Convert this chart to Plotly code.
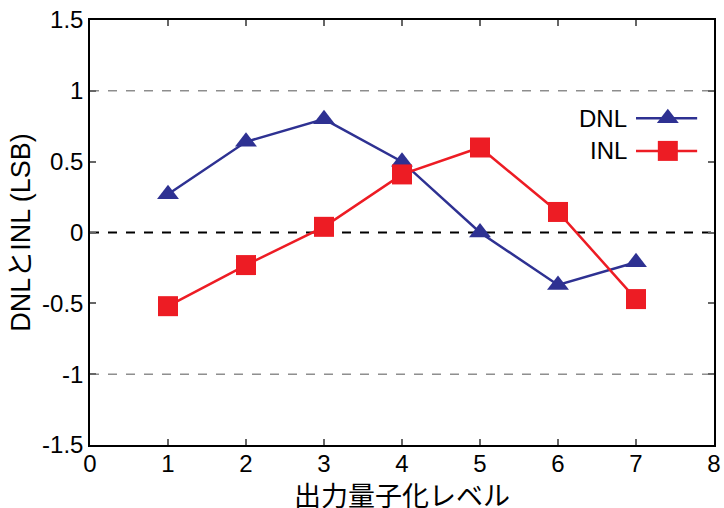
import plotly.graph_objects as go

levels = [1, 2, 3, 4, 5, 6, 7]
dnl = [0.27, 0.64, 0.80, 0.50, 0.00, -0.37, -0.21]
inl = [-0.52, -0.23, 0.04, 0.41, 0.60, 0.145, -0.47]
xticks = [0, 1, 2, 3, 4, 5, 6, 7, 8]
yticks = [-1.5, -1, -0.5, 0, 0.5, 1, 1.5]
ytick_text = ["-1.5", "-1", "-0.5", "0", "0.5", "1", "1.5"]

BLUE = "#2E3192"
RED = "#ED1C24"
FONT = "Liberation Sans, Arial, sans-serif"

fig = go.Figure()

# reference lines
for yv, col, dash, w in [(1, "#555555", "dash", 1), (-1, "#555555", "dash", 1), (0, "black", "dash", 2)]:
    fig.add_shape(type="line", xref="paper", x0=0, x1=1, yref="y", y0=yv, y1=yv,
                  line=dict(color=col, dash=dash, width=w), layer="below")

fig.add_trace(go.Scatter(x=levels, y=dnl, mode="lines+markers", name="DNL",
                         line=dict(color=BLUE, width=2.5),
                         marker=dict(symbol="triangle-up", size=19, color=BLUE),
                         showlegend=False))
fig.add_trace(go.Scatter(x=levels, y=inl, mode="lines+markers", name="INL",
                         line=dict(color=RED, width=2.5),
                         marker=dict(symbol="square", size=20, color=RED),
                         showlegend=False))

# legend samples on an overlay axis in [0,1] coordinates
leg_x = [0.875, 0.973]
leg_mid = [0.926]
leg_y = [0.769, 0.692]
for yl, col, sym, sz in [(leg_y[0], BLUE, "triangle-up", 19), (leg_y[1], RED, "square", 20)]:
    fig.add_trace(go.Scatter(x=leg_x, y=[yl, yl], xaxis="x2", yaxis="y2", mode="lines",
                             line=dict(color=col, width=2.5), showlegend=False, hoverinfo="skip"))
    fig.add_trace(go.Scatter(x=leg_mid, y=[yl], xaxis="x2", yaxis="y2", mode="markers",
                             marker=dict(symbol=sym, size=sz, color=col), showlegend=False, hoverinfo="skip"))

for txt, yl in [("DNL", leg_y[0]), ("INL", leg_y[1])]:
    fig.add_annotation(x=0.864, y=yl, xref="x2", yref="y2", text=txt, showarrow=False,
                       xanchor="right", yanchor="middle", font=dict(size=24, color="black", family=FONT))

# x-axis title placed as an annotation below the tick labels
fig.add_annotation(x=0.5, y=0, xref="paper", yref="paper", text="出力量子化レベル",
                   showarrow=False, xanchor="center", yanchor="middle", yshift=-49,
                   height=28, valign="middle",
                   font=dict(size=27, color="black", family="Noto Sans CJK JP, sans-serif"))

axis_common = dict(showline=True, linecolor="black", linewidth=1.5, mirror="ticks",
                   ticks="inside", ticklen=6, tickcolor="#666666", tickwidth=1.5,
                   showgrid=False, zeroline=False, automargin=False,
                   ticklabeloverflow="allow",
                   tickfont=dict(size=24, color="black", family=FONT))

fig.update_layout(
    width=724, height=508,
    margin=dict(l=90, r=10, t=20, b=63),
    paper_bgcolor="white", plot_bgcolor="white",
    font=dict(family=FONT, color="black"),
    xaxis=dict(range=[0, 8], tickvals=xticks, ticklabelstandoff=-4, **axis_common),
    yaxis=dict(range=[-1.5, 1.5], tickvals=yticks, ticktext=ytick_text, **axis_common,
               title=dict(text="DNLとINL (LSB)", standoff=4,
                          font=dict(size=27, family=FONT + ", Noto Sans CJK JP"))),
    xaxis2=dict(range=[0, 1], overlaying="x", visible=False, fixedrange=True),
    yaxis2=dict(range=[0, 1], overlaying="y", visible=False, fixedrange=True),
)

fig.write_html("out.html", config={"displayModeBar": False},
               post_script="document.body.style.margin='0';document.body.style.overflow='hidden';")
